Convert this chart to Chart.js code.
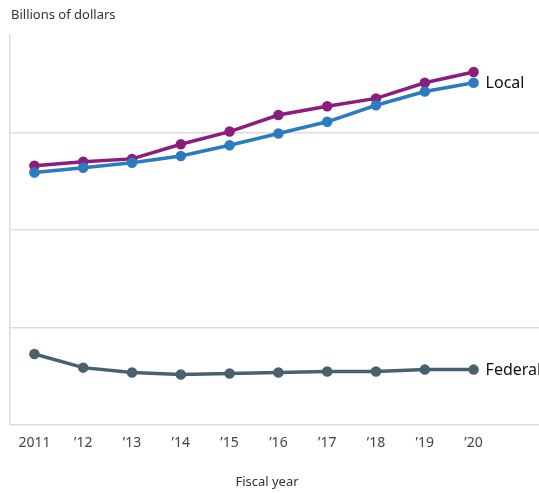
<!DOCTYPE html>
<html>
<head>
<meta charset="utf-8">
<script src="https://cdn.jsdelivr.net/npm/chart.js@4"></script>
<style>
  html, body { margin: 0; padding: 0; background: #fff; overflow: hidden; }
  #wrap { position: relative; width: 539px; height: 493px; }
</style>
</head>
<body>
<div id="wrap"><canvas id="chart"></canvas></div>
<script>
// fiscal years and spending, billions of dollars
const years = [2011, 2012, 2013, 2014, 2015, 2016, 2017, 2018, 2019, 2020];
const stateValues = [266, 270, 273, 288, 301, 318, 327, 335, 351, 362];
const localValues = [259, 264, 269, 276, 287, 299, 311, 328, 342, 351];
const federalValues = [73, 59, 54, 52, 53, 54, 55, 55, 57, 57];
const yTicks = [0, 100, 200, 300, 400];

const FONT = '"Noto Sans", "Open Sans", sans-serif';

const toPoints = vals => vals.map((v, i) => ({ x: years[i], y: v }));

// labels at the end of a line, plus the unit caption and axis caption
const annotations = {
    id: 'annotations',
    afterDatasetsDraw(chart) {
        const { ctx, scales: { x, y } } = chart;
        ctx.save();
        ctx.font = '16px ' + FONT;
        ctx.fillStyle = '#111';
        ctx.textBaseline = 'middle';
        ctx.textAlign = 'left';
        const last = years.length - 1;
        const lx = x.getPixelForValue(years[last]) + 12;
        ctx.fillText('Local', lx, y.getPixelForValue(localValues[last]) + 1);
        ctx.fillText('Federal', lx, y.getPixelForValue(federalValues[last]) + 1);

        ctx.font = '13px ' + FONT;
        ctx.fillStyle = '#333';
        ctx.textBaseline = 'alphabetic';
        ctx.fillText('Billions of dollars', 11, 19);
        ctx.textAlign = 'center';
        ctx.fillText('Fiscal year', 267, 486);
        ctx.restore();
    }
};

function series(data, color) {
    return {
        data: toPoints(data),
        borderColor: color,
        backgroundColor: color,
        borderWidth: 3.5,
        pointRadius: 3.5,
        pointHoverRadius: 3.5,
        tension: 0
    };
}

new Chart(document.getElementById('chart'), {
    type: 'line',
    data: {
        datasets: [
            series(federalValues, '#49606d'),
            series(localValues, '#2a7bbf'),
            series(stateValues, '#8c1d7c')
        ]
    },
    options: {
        responsive: true,
        maintainAspectRatio: false,
        animation: false,
        layout: { autoPadding: false, padding: { top: 35, right: 0, bottom: 41, left: 10 } },
        plugins: { legend: { display: false }, tooltip: { enabled: false } },
        scales: {
            x: {
                type: 'linear',
                min: 2010.5,
                max: 2021.34,
                afterBuildTicks: axis => { axis.ticks = years.map(v => ({ value: v })); },
                grid: { display: false },
                border: { display: false },
                ticks: {
                    font: { size: 14, family: FONT },
                    color: '#444',
                    padding: 1,
                    maxRotation: 0,
                    callback: v => v === 2011 ? '2011' : '\u2019' + String(v).slice(2)
                }
            },
            y: {
                min: yTicks[0],
                max: yTicks[yTicks.length - 1],
                afterBuildTicks: axis => { axis.ticks = yTicks.map(v => ({ value: v })); },
                ticks: { display: false },
                grid: {
                    drawTicks: false,
                    color: c => c.tick && c.tick.value === yTicks[yTicks.length - 1] ? 'rgba(0,0,0,0)' : '#dcdcdc',
                    lineWidth: 1.5
                },
                border: { display: true, color: '#dcdcdc', width: 1.5 }
            }
        }
    },
    plugins: [annotations]
});
</script>
</body>
</html>
